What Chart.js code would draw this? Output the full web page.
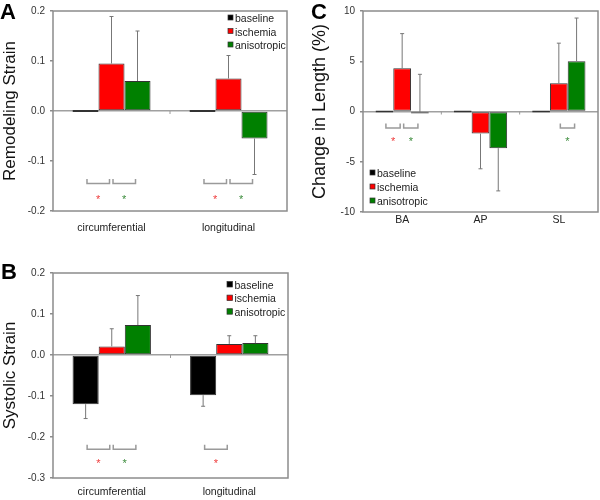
<!DOCTYPE html>
<html><head><meta charset="utf-8">
<script src="https://cdn.jsdelivr.net/npm/chart.js@4.4.0/dist/chart.umd.min.js"></script>
<style>
html,body{margin:0;padding:0;background:#fff;width:600px;height:500px;overflow:hidden}
canvas{position:absolute}
.letter{position:absolute;font:bold 22px "Liberation Sans",Arial,sans-serif;color:#000;line-height:1}
</style></head><body>
<canvas id="cA" width="300" height="240" style="left:0;top:0"></canvas>
<canvas id="cB" width="300" height="260" style="left:0;top:240px"></canvas>
<canvas id="cC" width="300" height="240" style="left:300px;top:0"></canvas>
<div class="letter" style="left:0;top:1px">A</div>
<div class="letter" style="left:1px;top:261px">B</div>
<div class="letter" style="left:311px;top:1px">C</div>
<script>
// ---------- data ----------
const seriesNames = ['baseline', 'ischemia', 'anisotropic'];

// Panel A: Remodeling Strain
const categoriesA = ['circumferential', 'longitudinal'];
const remodBaseline = [0, 0];
const remodIschemia = [0.095, 0.065];
const remodAniso = [0.06, -0.055];
const remodBaselineErr = [0, 0];
const remodIschemiaErr = [0.094, 0.046];
const remodAnisoErr = [0.10, -0.072];
const ticksA = ['-0.2', '-0.1', '0.0', '0.1', '0.2'];

// Panel B: Systolic Strain
const categoriesB = ['circumferential', 'longitudinal'];
const sysBaseline = [-0.12, -0.098];
const sysIschemia = [0.021, 0.027];
const sysAniso = [0.073, 0.029];
const sysBaselineErr = [-0.035, -0.027];
const sysIschemiaErr = [0.043, 0.02];
const sysAnisoErr = [0.072, 0.018];
const ticksB = ['-0.3', '-0.2', '-0.1', '0.0', '0.1', '0.2'];

// Panel C: Change in Length (%)
const categoriesC = ['BA', 'AP', 'SL'];
const lenBaseline = [0, 0, 0];
const lenIschemia = [4.3, -2.2, 2.8];
const lenAniso = [-0.1, -3.65, 5.0];
const lenBaselineErr = [0, 0, 0];
const lenIschemiaErr = [3.45, -3.5, 4.0];
const lenAnisoErr = [3.8, -4.25, 4.3];
const ticksC = ['-10', '-5', '0', '5', '10'];

// significance brackets: category index, from series, to series, star colour
const sigA = [[0, 0, 1, 'red'], [0, 1, 2, 'green'], [1, 0, 1, 'red'], [1, 1, 2, 'green']];
const sigB = [[0, 0, 1, 'red'], [0, 1, 2, 'green'], [1, 0, 1, 'red']];
const sigC = [[0, 0, 1, 'red'], [0, 1, 2, 'green'], [2, 1, 2, 'green']];

// ---------- styling ----------
const FONT = '"Liberation Sans", Arial, Helvetica, sans-serif';
Chart.defaults.font.family = FONT;
const fills = ['#000000', '#ff0000', '#008000'];
const starColors = { red: '#ef3b3b', green: '#3c8c3c' };

const decor = {
  id: 'decor',
  afterDatasetsDraw(chart, args, o) {
    const ctx = chart.ctx, ca = chart.chartArea;
    const ys = chart.scales.y, xs = chart.scales.x;
    ctx.save();
    // small category separator ticks on the zero line
    const y0 = ys.getPixelForValue(0);
    ctx.strokeStyle = '#9a9a9a'; ctx.lineWidth = 1;
    const n = chart.data.labels.length;
    for (let i = 1; i < n; i++) {
      const xb = (xs.getPixelForTick(i - 1) + xs.getPixelForTick(i)) / 2;
      ctx.beginPath(); ctx.moveTo(xb, y0); ctx.lineTo(xb, y0 + 3); ctx.stroke();
    }
    // error bars (one-sided)
    chart.data.datasets.forEach((ds, di) => {
      const meta = chart.getDatasetMeta(di);
      meta.data.forEach((bar, i) => {
        const e = o.errors[di][i];
        if (!e) return;
        const v = ds.data[i];
        const ya = ys.getPixelForValue(v), yb = ys.getPixelForValue(v + e);
        ctx.strokeStyle = '#777'; ctx.lineWidth = 1;
        ctx.beginPath();
        ctx.moveTo(bar.x, ya); ctx.lineTo(bar.x, yb);
        ctx.moveTo(bar.x - 2, yb); ctx.lineTo(bar.x + 2, yb);
        ctx.stroke();
      });
    });
    // significance brackets and stars
    o.sig.forEach(s => {
      const b1 = chart.getDatasetMeta(s[1]).data[s[0]];
      const b2 = chart.getDatasetMeta(s[2]).data[s[0]];
      const x1 = b1.x + 1.5, x2 = b2.x - 2;
      const yb = ys.getPixelForValue(o.bracketY);
      ctx.strokeStyle = '#9a9a9a'; ctx.lineWidth = 1.5;
      ctx.beginPath();
      ctx.moveTo(x1, yb - 4.5); ctx.lineTo(x1, yb); ctx.lineTo(x2, yb); ctx.lineTo(x2, yb - 4.5);
      ctx.stroke();
      ctx.fillStyle = starColors[s[3]];
      ctx.font = '11px ' + FONT; ctx.textAlign = 'center'; ctx.textBaseline = 'alphabetic';
      ctx.fillText('*', (x1 + x2) / 2, ys.getPixelForValue(o.starY) + 6);
    });
    // frame
    ctx.strokeStyle = '#8c8c8c'; ctx.lineWidth = 1.5;
    ctx.strokeRect(ca.left, ca.top, ca.width, ca.height);
    // legend
    const L = o.legend;
    ctx.font = '10.5px ' + FONT; ctx.textAlign = 'left'; ctx.textBaseline = 'middle';
    chart.data.datasets.forEach((ds, di) => {
      const cy = L.y + di * L.dy;
      ctx.fillStyle = ds.backgroundColor;
      ctx.fillRect(L.x, cy - 4.5, L.s, L.s);
      ctx.strokeStyle = '#333'; ctx.lineWidth = 0.7;
      ctx.strokeRect(L.x, cy - 4.5, L.s, L.s);
      ctx.fillStyle = '#222';
      ctx.fillText(ds.label, L.x + L.s + 2, cy);
    });
    ctx.restore();
  }
};

function makeChart(id, cats, vals, cfg) {
  const datasets = vals.map((d, i) => ({
    label: seriesNames[i], data: d,
    backgroundColor: fills[i], borderColor: '#333', borderWidth: 1, borderSkipped: false,
    barPercentage: 1, categoryPercentage: cfg.catPct, minBarLength: 2
  }));
  return new Chart(document.getElementById(id), {
    type: 'bar',
    data: { labels: cats, datasets },
    plugins: [decor],
    options: {
      responsive: false, animation: false, devicePixelRatio: 1,
      layout: { padding: cfg.pad },
      plugins: {
        legend: { display: false }, tooltip: { enabled: false },
        decor: { errors: cfg.errors, sig: cfg.sig, bracketY: cfg.bracketY, starY: cfg.starY, legend: cfg.legend }
      },
      scales: {
        x: {
          grid: { display: false, drawTicks: false }, border: { display: false },
          ticks: { padding: cfg.xPad, color: '#222', font: { size: 10.5 }, maxRotation: 0, autoSkip: false },
          afterFit: s => { s.height = cfg.xH; }
        },
        y: {
          min: cfg.min, max: cfg.max,
          afterBuildTicks: s => { s.ticks = cfg.ticks.map(t => ({ value: parseFloat(t) })); },
          ticks: { padding: 5, color: '#333', font: { size: 10 },
            callback: (v, i) => cfg.ticks[i] },
          grid: {
            drawTicks: true, tickLength: 3, tickColor: '#8c8c8c', tickWidth: 1.5,
            color: c => (c.tick && Math.abs(c.tick.value) < 1e-9) ? '#a0a0a0' : 'rgba(0,0,0,0)',
            lineWidth: 1.5
          },
          border: { display: false },
          title: { display: true, text: cfg.title, color: '#111', font: { size: cfg.titleSize },
            padding: { top: cfg.titlePad, bottom: 0 } },
          afterFit: s => { s.width = cfg.yW; }
        }
      }
    }
  });
}

makeChart('cA', categoriesA, [remodBaseline, remodIschemia, remodAniso], {
  catPct: 0.667, pad: { top: 7, right: 13, bottom: 4, left: 0 }, xH: 25, xPad: 10.5,
  min: -0.2, max: 0.2, ticks: ticksA, title: 'Remodeling Strain', titleSize: 17, titlePad: 0, yW: 53,
  errors: [remodBaselineErr, remodIschemiaErr, remodAnisoErr], sig: sigA,
  bracketY: -0.145, starY: -0.171, legend: { x: 228, y: 19.5, dy: 13.5, s: 5 }
});
makeChart('cB', categoriesB, [sysBaseline, sysIschemia, sysAniso], {
  catPct: 0.667, pad: { top: 33, right: 12, bottom: 2, left: 0 }, xH: 20, xPad: 8,
  min: -0.3, max: 0.2, ticks: ticksB, title: 'Systolic Strain', titleSize: 17, titlePad: 0, yW: 53,
  errors: [sysBaselineErr, sysIschemiaErr, sysAnisoErr], sig: sigB,
  bracketY: -0.23, starY: -0.259, legend: { x: 227, y: 46, dy: 13.6, s: 5.5 }
});
makeChart('cC', categoriesC, [lenBaseline, lenIschemia, lenAniso], {
  catPct: 0.68, pad: { top: 7, right: 2, bottom: 8, left: 0 }, xH: 20, xPad: 1.7,
  min: -10, max: 10, ticks: ticksC, title: 'Change in Length (%)', titleSize: 18, titlePad: 9, yW: 63,
  errors: [lenBaselineErr, lenIschemiaErr, lenAnisoErr], sig: sigC,
  bracketY: -1.64, starY: -2.78, legend: { x: 70, y: 174.5, dy: 14, s: 5 }
});
</script>
</body></html>
